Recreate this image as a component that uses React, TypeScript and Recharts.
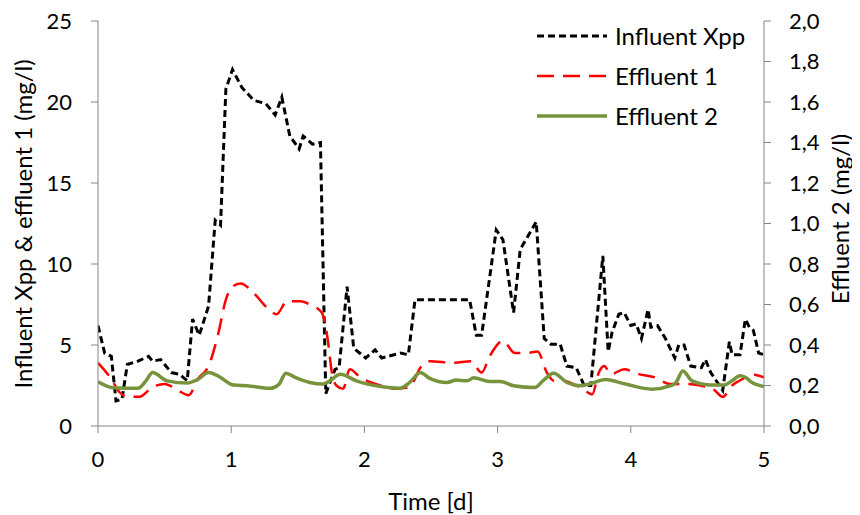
import React from "react";
import { LineChart, Line, XAxis, YAxis } from "recharts";

// Time axis (days)
const timeTicks = [0, 1, 2, 3, 4, 5];
const leftTicks = [0, 5, 10, 15, 20, 25];
const rightTicks = [0, 0.2, 0.4, 0.6, 0.8, 1.0, 1.2, 1.4, 1.6, 1.8, 2.0];

// Influent Xpp (mg/l)
const influentTime = [
  0, 0.05, 0.1, 0.135, 0.18, 0.22, 0.3, 0.38, 0.41, 0.47, 0.55, 0.61, 0.67, 0.71, 0.76, 0.83,
  0.88, 0.92, 0.96, 1.01, 1.08, 1.17, 1.26, 1.33, 1.38, 1.41, 1.44, 1.51, 1.54, 1.61, 1.67,
  1.71, 1.78, 1.81, 1.87, 1.92, 2.01, 2.08, 2.13, 2.27, 2.33, 2.38, 2.79, 2.84, 2.88, 2.99,
  3.04, 3.12, 3.17, 3.29, 3.35, 3.4, 3.47, 3.52, 3.59, 3.65, 3.7, 3.79, 3.83, 3.86, 3.91,
  3.95, 4.0, 4.04, 4.08, 4.13, 4.15, 4.2, 4.26, 4.33, 4.36, 4.4, 4.45, 4.53, 4.56, 4.6, 4.69,
  4.74, 4.76, 4.82, 4.86, 4.89, 4.92, 4.96, 5.0,
];
const influentXpp = [
  6.2, 4.5, 4.3, 1.55, 1.65, 3.8, 4.0, 4.3, 4.0, 4.1, 3.3, 3.2, 2.8, 6.6, 5.6, 7.4,
  12.7, 12.4, 20.8, 22.0, 20.9, 20.1, 19.9, 19.2, 20.3, 19.1, 17.9, 17.1, 17.9, 17.4, 17.5,
  2.0, 3.5, 3.6, 8.6, 4.8, 4.2, 4.7, 4.2, 4.5, 4.4, 7.8, 7.8, 5.6, 5.6, 12.1,
  11.5, 7.0, 10.9, 12.6, 5.4, 5.05, 5.05, 3.7, 3.6, 2.5, 2.5, 10.5, 4.6, 5.8, 6.9,
  7.0, 6.2, 6.3, 5.4, 7.2, 6.1, 6.2, 5.4, 4.2, 5.0, 5.0, 3.7, 3.6, 4.1, 3.3, 2.2,
  5.2, 4.4, 4.4, 6.6, 6.1, 5.9, 4.5, 4.4,
];

// Effluent 1 (mg/l)
const effluent1Time = [
  0, 0.1, 0.16, 0.22, 0.31, 0.41, 0.5, 0.6, 0.68, 0.75, 0.83, 0.9, 0.96, 1.01, 1.07, 1.17,
  1.27, 1.34, 1.42, 1.52, 1.59, 1.68, 1.72, 1.76, 1.79, 1.84, 1.89, 1.97, 2.12, 2.24, 2.34,
  2.42, 2.49, 2.67, 2.8, 2.88, 2.94, 3.04, 3.13, 3.22, 3.3, 3.37, 3.42, 3.49, 3.59, 3.67,
  3.71, 3.76, 3.8, 3.85, 3.95, 4.06, 4.18, 4.29, 4.4, 4.52, 4.63, 4.69, 4.76, 4.84, 4.9, 5.0,
];
const effluent1 = [
  3.9, 2.9, 2.1, 1.8, 1.8, 2.4, 2.6, 2.2, 1.9, 2.9, 3.7, 5.6, 7.8, 8.6, 8.8, 8.2,
  7.3, 6.9, 7.7, 7.7, 7.5, 7.0, 5.6, 3.1, 2.5, 2.3, 3.5, 3.0, 2.5, 2.3, 2.4,
  3.6, 4.0, 3.9, 4.0, 3.3, 4.3, 5.25, 4.5, 4.5, 4.6, 3.3, 2.8, 2.8, 2.5, 2.1,
  1.95, 3.3, 3.7, 3.2, 3.5, 3.2, 3.0, 2.6, 2.6, 2.5, 2.2, 1.8, 2.5, 2.9, 3.2, 3.0,
];

// Effluent 2 (mg/l), right axis
const effluent2Time = [
  0, 0.1, 0.2, 0.3, 0.36, 0.41, 0.52, 0.67, 0.75, 0.83, 0.9, 1.02, 1.12, 1.29, 1.36, 1.41,
  1.48, 1.59, 1.69, 1.74, 1.82, 1.94, 2.12, 2.27, 2.34, 2.42, 2.49, 2.62, 2.69, 2.77, 2.82,
  2.94, 3.02, 3.12, 3.28, 3.34, 3.42, 3.52, 3.62, 3.69, 3.81, 3.96, 4.16, 4.3, 4.34, 4.39,
  4.46, 4.59, 4.7, 4.76, 4.82, 4.86, 4.91, 5.0,
];
const effluent2 = [
  0.218, 0.19, 0.186, 0.186, 0.223, 0.264, 0.223, 0.212, 0.23, 0.264, 0.248, 0.202, 0.199, 0.186, 0.207, 0.261,
  0.24, 0.215, 0.207, 0.223, 0.256, 0.223, 0.195, 0.187, 0.215, 0.264, 0.235, 0.215, 0.227, 0.223, 0.238,
  0.22, 0.22, 0.199, 0.19, 0.223, 0.261, 0.215, 0.199, 0.207, 0.23, 0.207, 0.182, 0.199, 0.215, 0.272,
  0.223, 0.203, 0.202, 0.223, 0.248, 0.24, 0.215, 0.195,
];

const zip = (xs: number[], ys: number[]) => xs.map((t, i) => ({ t, v: ys[i] }));
const influentData = zip(influentTime, influentXpp);
const effluent1Data = zip(effluent1Time, effluent1);
const effluent2Data = zip(effluent2Time, effluent2);

const FONT = "Lato, 'Open Sans', sans-serif";
const AXIS = "#868686";
const tickStyle = { fill: "#000", fontSize: 22, fontFamily: FONT };
const TITLE_SIZE = 24;

const legendItems = [
  { name: "Influent Xpp", color: "#000000", dash: "7 4", width: 3 },
  { name: "Effluent 1", color: "#ff0000", dash: "17 9", width: 2.5 },
  { name: "Effluent 2", color: "#77933c", dash: undefined, width: 3.5 },
];

function ChartLegend() {
  return (
    <div style={{ position: "absolute", top: 8, left: 529, fontFamily: FONT, fontSize: TITLE_SIZE, color: "#000", lineHeight: 1 }}>
      {legendItems.map((it) => (
        <div key={it.name} style={{ display: "flex", alignItems: "center", height: 40 }}>
          <svg width={70} height={10} style={{ marginRight: 8 }}>
            <line x1={0} y1={5} x2={70} y2={5} stroke={it.color} strokeWidth={it.width} strokeDasharray={it.dash} />
          </svg>
          <span>{it.name}</span>
        </div>
      ))}
    </div>
  );
}

export default function App() {
  return (
    <div style={{ position: "relative", width: 852, height: 507 }}>
      <LineChart width={852} height={507} margin={{ top: 13, right: 0, bottom: 0, left: 0 }}>
        <XAxis
          dataKey="t"
          type="number"
          domain={[0, 5]}
          ticks={timeTicks}
          allowDataOverflow
          height={89}
          tickSize={7}
          tickMargin={18}
          stroke={AXIS}
          tick={tickStyle}
          label={(p: any) => {
            const vb = p.viewBox;
            return (
              <text x={vb.x + vb.width / 2} y={vb.y + 84} textAnchor="middle" fontSize={TITLE_SIZE} fontFamily={FONT} fill="#000">
                Time [d]
              </text>
            );
          }}
        />
        <YAxis
          yAxisId="left"
          domain={[0, 25]}
          ticks={leftTicks}
          width={90}
          tickSize={7}
          tickMargin={19}
          stroke={AXIS}
          tick={tickStyle}
          label={() => {
            const cx = 24;
            const cy = 216;
            return (
              <text x={cx} y={cy} transform={`rotate(-90 ${cx} ${cy})`} textAnchor="middle" fontSize={TITLE_SIZE} fontFamily={FONT} fill="#000">
                Influent Xpp &amp; effluent 1 (mg/l)
              </text>
            );
          }}
        />
        <YAxis
          yAxisId="right"
          orientation="right"
          domain={[0, 2]}
          ticks={rightTicks}
          width={96}
          tickSize={7}
          tickMargin={18}
          stroke={AXIS}
          tick={tickStyle}
          tickFormatter={(v: number) => v.toFixed(1).replace(".", ",")}
          label={() => {
            const cx = 841;
            const cy = 211;
            return (
              <text x={cx} y={cy} transform={`rotate(-90 ${cx} ${cy})`} textAnchor="middle" fontSize={TITLE_SIZE} fontFamily={FONT} fill="#000">
                Effluent 2 (mg/l)
              </text>
            );
          }}
        />
        <Line
          yAxisId="left"
          data={influentData}
          dataKey="v"
          name="Influent Xpp"
          type="linear"
          stroke="#000000"
          strokeWidth={3}
          strokeDasharray="7 4"
          dot={false}
          isAnimationActive={false}
        />
        <Line
          yAxisId="left"
          data={effluent1Data}
          dataKey="v"
          name="Effluent 1"
          type="monotone"
          stroke="#ff0000"
          strokeWidth={2.5}
          strokeDasharray="17 9"
          dot={false}
          isAnimationActive={false}
        />
        <Line
          yAxisId="right"
          data={effluent2Data}
          dataKey="v"
          name="Effluent 2"
          type="monotone"
          stroke="#77933c"
          strokeWidth={3.5}
          dot={false}
          isAnimationActive={false}
        />
      </LineChart>
      <ChartLegend />
    </div>
  );
}
